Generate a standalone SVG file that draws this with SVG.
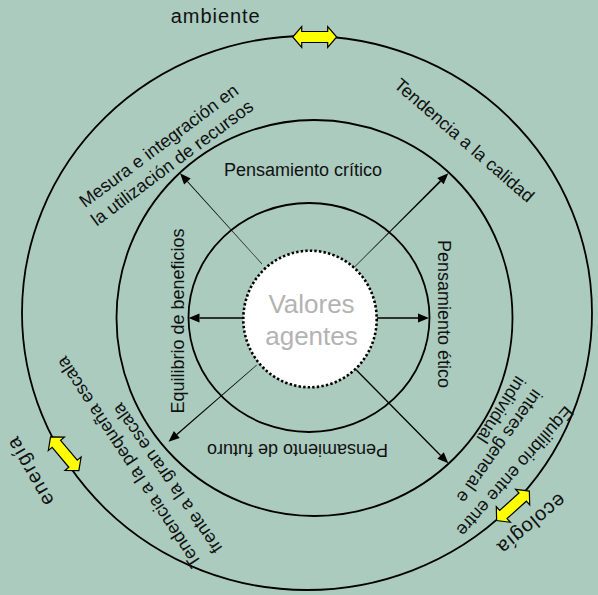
<svg xmlns="http://www.w3.org/2000/svg" width="598" height="595" viewBox="0 0 598 595">
  <defs>
    <style>
      .ring { fill: none; stroke: #000; stroke-width: 1.8; }
      .lbl { font-family: "Liberation Sans", Arial, sans-serif; font-size: 18px; fill: #111; }
      .big { font-family: "Liberation Sans", Arial, sans-serif; font-size: 20px; fill: #111; }
      .core { font-family: "Liberation Sans", Arial, sans-serif; font-size: 26px; fill: #b3b3b3; text-anchor: middle; }
      .shaft { fill: #000; stroke: none; }
      .head { fill: #000; stroke: none; }
      .dbl { fill: #ffff00; stroke: #000; stroke-width: 1.2; stroke-linejoin: miter; }
    </style>
    <!-- double-headed block arrow, centred on the origin, pointing along x -->
    <path id="dblArrow" d="M-22,0 L-13,-10.5 L-13,-5.5 L13,-5.5 L13,-10.5 L22,0 L13,10.5 L13,5.5 L-13,5.5 L-13,10.5 Z"/>
  </defs>

  <rect x="0" y="0" width="598" height="595" fill="#aacbbe"/>

  <!-- concentric rings -->
  <g id="ring-outer">
    <ellipse class="ring" cx="307" cy="313" rx="285" ry="277"/>
  </g>
  <g id="ring-middle">
    <ellipse class="ring" cx="314.5" cy="318" rx="198" ry="198"/>
  </g>
  <g id="ring-inner">
    <ellipse class="ring" cx="309" cy="317.5" rx="120.5" ry="114.5"/>
  </g>

  <!-- connectors from the core outwards -->
  <g id="connectors">
    <!-- left -->
    <line x1="243" y1="318" x2="199.5" y2="318" stroke="#000" stroke-width="1.5"/>
    <polygon class="head" points="188.5,318 199.5,313.5 199.5,322.5"/>
    <!-- right -->
    <line x1="377" y1="318" x2="418" y2="318" stroke="#000" stroke-width="1.5"/>
    <polygon class="head" points="429,318 418,313.5 418,322.5"/>
    <!-- upper left -->
    <polygon class="shaft" points="262.15,263.87 187.77,181.16 187.03,181.84 261.85,264.13"/>
    <polygon class="head" points="180,173.3 190.7,178.5 184.1,184.5"/>
    <!-- upper right -->
    <polygon class="shaft" points="355.14,266.64 441.14,181.74 439.86,180.46 354.86,266.36"/>
    <polygon class="head" points="448.3,173.3 443.7,184.3 437.3,177.9"/>
    <!-- lower left -->
    <polygon class="shaft" points="256.57,364.85 176.34,433.97 177.26,435.03 256.83,365.15"/>
    <polygon class="head" points="168.5,441.7 173.85,431.1 179.75,437.9"/>
    <!-- lower right -->
    <line x1="356.3" y1="370" x2="440.6" y2="455.5" stroke="#000" stroke-width="1.3"/>
    <polygon class="head" points="448.3,463.3 437.4,458.7 443.8,452.3"/>
  </g>

  <!-- core -->
  <g id="core">
    <ellipse cx="310" cy="319" rx="66.7" ry="68.3" fill="#fff" stroke="#000" stroke-width="2.6" stroke-dasharray="2.4 2.2"/>
    <text class="core" x="311.5" y="313">Valores</text>
    <text class="core" x="311.5" y="344.5">agentes</text>
  </g>

  <!-- inner ring labels -->
  <g id="lbl-critico">
    <text class="lbl" x="224" y="176">Pensamiento crítico</text>
  </g>
  <g id="lbl-etico">
    <text class="lbl" transform="translate(437.5,240) rotate(90)">Pensamiento ético</text>
  </g>
  <g id="lbl-futuro">
    <text class="lbl" transform="translate(388,443.5) rotate(180)" textLength="181" lengthAdjust="spacing">Pensamiento de futuro</text>
  </g>
  <g id="lbl-beneficios">
    <text class="lbl" transform="translate(184,413.5) rotate(-90)">Equilibrio de beneficios</text>
  </g>

  <!-- middle ring labels -->
  <g id="lbl-recursos" transform="translate(162.4,150.6) rotate(-36.7)">
    <text class="lbl" x="0" y="0" text-anchor="middle">Mesura e integración en</text>
    <text class="lbl" x="0.4" y="21.75" text-anchor="middle">la utilización de recursos</text>
  </g>
  <g id="lbl-calidad">
    <text class="lbl" transform="translate(393,86.5) rotate(41)">Tendencia a la calidad</text>
  </g>
  <g id="lbl-escala">
    <text class="lbl" transform="translate(202,562.7) rotate(-123.3)">Tendencia a la pequeña escala</text>
    <text class="lbl" transform="translate(223,548) rotate(-124.8)">frente a la gran escala</text>
  </g>
  <g id="lbl-interes">
    <text class="lbl" transform="translate(565.5,405) rotate(131.5)">Equilibrio entre entre</text>
    <text class="lbl" transform="translate(533.2,388) rotate(125.3)">interes general e</text>
    <text class="lbl" transform="translate(516.3,374.8) rotate(122.6)">individual</text>
  </g>

  <!-- outer ring: exchange points -->
  <g id="ambiente">
    <text class="big" x="170.7" y="22.7" textLength="89" lengthAdjust="spacing">ambiente</text>
    <use href="#dblArrow" class="dbl" transform="translate(314.7,37)"/>
  </g>
  <g id="energia">
    <text class="big" transform="translate(54.5,500.9) rotate(-119.6)" textLength="75" lengthAdjust="spacing">energía</text>
    <use href="#dblArrow" class="dbl" transform="translate(64.7,453.8) rotate(50)"/>
  </g>
  <g id="ecologia">
    <text class="big" transform="translate(559,492.5) rotate(140.2)" textLength="82" lengthAdjust="spacing">ecología</text>
    <use href="#dblArrow" class="dbl" transform="translate(513,505.8) rotate(-42)"/>
  </g>
</svg>
